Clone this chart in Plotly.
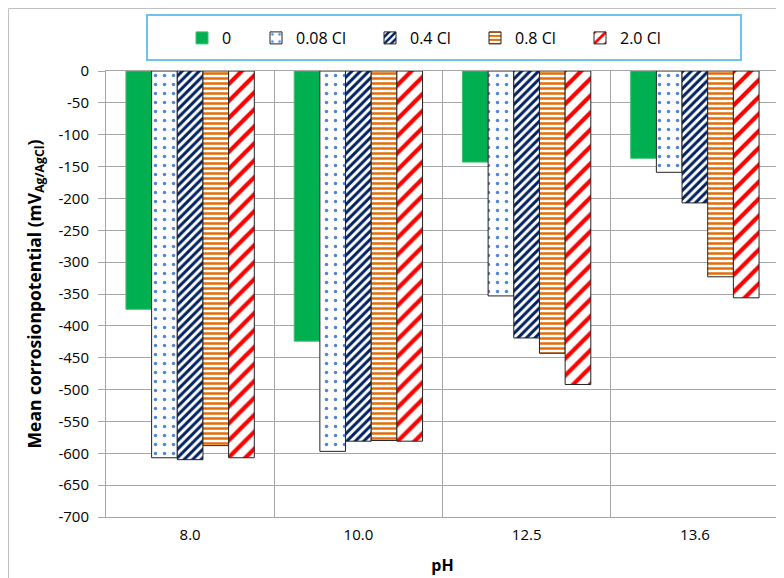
import plotly.graph_objects as go

categories = ["8.0", "10.0", "12.5", "13.6"]
series_names = ["0", "0.08 Cl", "0.4 Cl", "0.8 Cl", "2.0 Cl"]
s_0 = [-374, -424, -143, -137]
s_008 = [-607, -597, -353, -159]
s_04 = [-610, -581, -419, -207]
s_08 = [-588, -580, -443, -323]
s_20 = [-607, -581, -492, -356]
y_tick_vals = list(range(0, -701, -50))
y_tick_text = [str(v) for v in y_tick_vals]

# page body has an 8px margin; work in window pixels and convert
OFF = 8
W, H = 784 - OFF, 578 - OFF
ML, MR, MT, MB = 106 - OFF, 5, 71 - OFF, 61
PW, PH = W - ML - MR, H - MT - MB

def px_x(p):
    return (p - OFF - ML) / PW

def px_y(p):
    return (H - MB - (p - OFF)) / PH

FONT = "Open Sans"
xpos = list(range(len(categories)))
LW = [29, 69, 60, 60, 60]

fig = go.Figure()
fig.add_trace(go.Bar(name=series_names[0], x=xpos, y=s_0, legendwidth=LW[0],
                     marker=dict(color="#00b050", line=dict(color="#3cc070", width=1))))
fig.add_trace(go.Bar(name=series_names[1], x=xpos, y=s_008, legendwidth=LW[1],
                     marker=dict(color="white", line=dict(color="#222222", width=1),
                                 pattern=dict(shape=".", fgcolor="#4f86d8", bgcolor="white",
                                              size=9, solidity=0.12, fillmode="replace"))))
fig.add_trace(go.Bar(name=series_names[2], x=xpos, y=s_04, legendwidth=LW[2],
                     marker=dict(color="white", line=dict(color="#222222", width=1),
                                 pattern=dict(shape="/", fgcolor="#002060", bgcolor="white",
                                              size=6, solidity=0.5, fillmode="replace"))))
fig.add_trace(go.Bar(name=series_names[3], x=xpos, y=s_08, legendwidth=LW[3],
                     marker=dict(color="white", line=dict(color="#222222", width=1),
                                 pattern=dict(shape="-", fgcolor="#e46c0a", bgcolor="white",
                                              size=5, solidity=0.5, fillmode="replace"))))
fig.add_trace(go.Bar(name=series_names[4], x=xpos, y=s_20, legendwidth=LW[4],
                     marker=dict(color="white", line=dict(color="#222222", width=1),
                                 pattern=dict(shape="/", fgcolor="#ff0000", bgcolor="white",
                                              size=12, solidity=0.35, fillmode="replace"))))

fig.update_layout(
    width=W, height=H,
    margin=dict(l=ML, r=MR, t=MT, b=MB),
    paper_bgcolor="white", plot_bgcolor="white",
    barmode="group", bargap=0.237, bargroupgap=0,
    font=dict(family=FONT, size=15, color="#000000"),
    showlegend=True,
    legend=dict(orientation="h", x=px_x(182), xanchor="left", y=px_y(38), yanchor="middle",
                font=dict(size=16), bgcolor="rgba(0,0,0,0)", borderwidth=0,
                itemwidth=30, traceorder="normal"),
    xaxis=dict(range=[-0.5, len(categories) - 0.5], tickvals=xpos, ticktext=categories,
               showgrid=False, zeroline=False, ticks="", showline=True, linecolor="#a6a6a6",
               linewidth=1, mirror=True, ticklabelstandoff=4,
               minor=dict(tickvals=[i - 0.5 for i in range(len(categories) + 1)], showgrid=True,
                          gridcolor="#a6a6a6", gridwidth=1, ticks=""),
               title=dict(text="<b>pH</b>", font=dict(size=16), standoff=16),
               tickfont=dict(size=15), automargin=False),
    yaxis=dict(range=[-700, 0], tickvals=y_tick_vals, ticktext=y_tick_text,
               showgrid=True, gridcolor="#a6a6a6", gridwidth=1, zeroline=False,
               ticks="outside", ticklen=7, tickcolor="#a6a6a6", showline=True,
               linecolor="#a6a6a6", linewidth=1,
               ticklabelstandoff=6,
               title=dict(text="<b>Mean corrosionpotential (mV<sub>Ag/AgCl</sub>)</b>",
                          font=dict(size=17.5), standoff=12),
               tickfont=dict(size=15), automargin=False),
    shapes=[
        dict(type="rect", xref="paper", yref="paper",
             x0=px_x(147), x1=px_x(741), y0=px_y(60), y1=px_y(15),
             line=dict(color="#6cc4ee", width=2), fillcolor="white", layer="below"),
        dict(type="line", xref="paper", yref="paper",
             x0=px_x(8.5), x1=px_x(8.5), y0=px_y(8.5), y1=px_y(600),
             line=dict(color="#c0c0c0", width=1)),
        dict(type="line", xref="paper", yref="paper",
             x0=px_x(8.5), x1=px_x(800), y0=px_y(8.5), y1=px_y(8.5),
             line=dict(color="#c0c0c0", width=1)),
    ],
)

fig.write_html("out.html")
